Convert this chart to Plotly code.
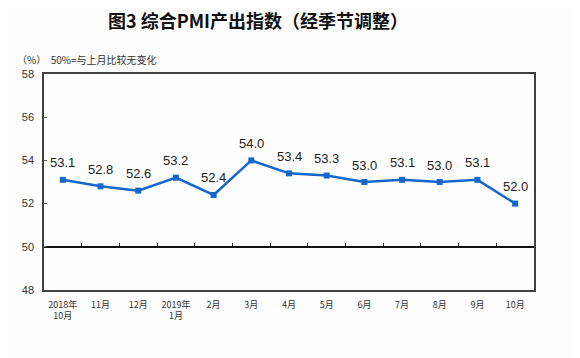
import plotly.graph_objects as go

categories = ["2018年<br>10月", "11月", "12月", "2019年<br>1月", "2月", "3月", "4月",
              "5月", "6月", "7月", "8月", "9月", "10月"]
values = [53.1, 52.8, 52.6, 53.2, 52.4, 54.0, 53.4, 53.3, 53.0, 53.1, 53.0, 53.1, 52.0]
y_ticks = [48, 50, 52, 54, 56, 58]

line_color = "#1468CC"
n = len(categories)

fig = go.Figure()
# invisible helper trace so the 50-line axis (xaxis2) is drawn
fig.add_trace(go.Scatter(
    x=list(range(n)), y=values, xaxis="x2", yaxis="y", mode="markers",
    marker=dict(opacity=0), hoverinfo="skip", showlegend=False,
))
fig.add_trace(go.Scatter(
    x=categories, y=values, mode="lines+markers",
    line=dict(color=line_color, width=2.5),
    marker=dict(symbol="square", size=6, color=line_color),
    showlegend=False, cliponaxis=False,
))

for c, v in zip(categories, values):
    fig.add_annotation(x=c, y=v, text=f"{v:.1f}", showarrow=False,
                       yshift=17, yanchor="middle",
                       font=dict(family="Arial, Liberation Sans", size=13, color="#222"))

fig.update_layout(
    width=572, height=350,
    margin=dict(l=36, r=46, t=66, b=68),
    paper_bgcolor="#fdfdfd", plot_bgcolor="#fdfdfd",
    title=dict(text="<b>图3 综合PMI产出指数（经季节调整）</b>",
               x=250 / 572, xanchor="center", y=1 - 14 / 350, yanchor="middle",
               font=dict(family="Noto Sans CJK SC", size=18, color="#111")),
    xaxis=dict(type="category", categoryorder="array", categoryarray=categories,
               range=[-0.5, n - 0.5],
               showline=True, linecolor="#404040", linewidth=1.5, mirror=True,
               showgrid=False, ticks="", ticklabelstandoff=5,
               tickfont=dict(family="Noto Sans CJK SC", size=9, color="#333")),
    xaxis2=dict(overlaying="x", anchor="free", position=0.2, type="linear",
                range=[-0.5, n - 0.5], tick0=0.5, dtick=1,
                ticks="inside", ticklen=3, tickcolor="#222", showticklabels=False,
                showgrid=False, zeroline=False, showline=True, linecolor="#111", linewidth=1.5),
    yaxis=dict(range=[48, 58], tickvals=y_ticks, showgrid=False, zeroline=False,
               showline=True, linecolor="#404040", linewidth=1.5, mirror=True,
               ticks="inside", ticklen=3, tickcolor="#666", ticklabelstandoff=6,
               tickfont=dict(family="Arial, Liberation Sans", size=11, color="#333")),
)

fig.add_annotation(xref="paper", yref="paper", x=(7 - 36) / 490, y=1 + 14 / 216,
                   xanchor="left", yanchor="middle", showarrow=False,
                   text="（%）  50%=与上月比较无变化",
                   font=dict(family="Noto Sans CJK SC", size=10, color="#333"))

fig.write_html("out.html")
